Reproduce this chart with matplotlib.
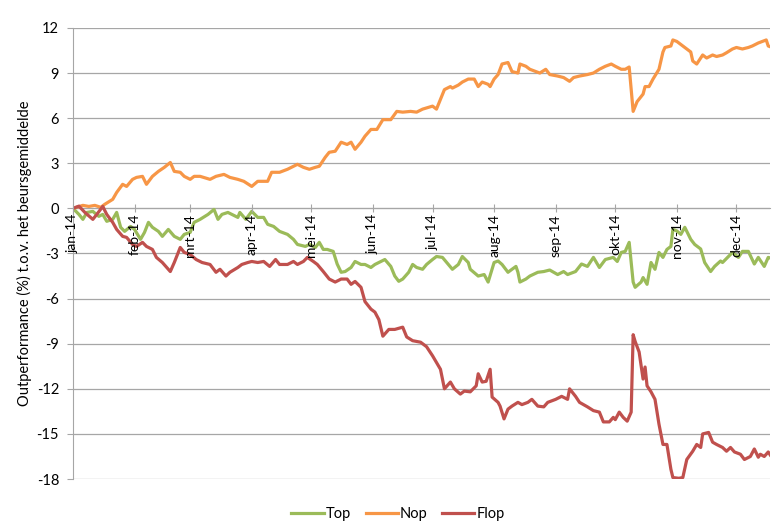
import numpy as np
import pandas as pd
import matplotlib
matplotlib.use("Agg")
import matplotlib.pyplot as plt

plt.rcParams['font.family'] = ['Lato', 'DejaVu Sans']
plt.rcParams['axes.unicode_minus'] = False

# dagen sinds 1 jan 2014 + outperformance (%)
top_dag = [0, 3, 5, 7, 10, 13, 15, 17, 20, 22, 24, 26, 29, 31, 34, 36, 38, 40, 43, 45, 48, 51, 54, 56, 59, 61,
           64, 68, 71, 73, 75, 78, 80, 83, 84, 87, 90, 93, 96, 98, 101, 104, 108, 111, 113, 117, 119, 122, 124,
           126, 128, 131, 133, 135, 137, 140, 142, 145, 147, 150, 152, 155, 157, 160, 162, 164, 166, 169, 171,
           173, 176, 178, 181, 183, 186, 189, 191, 194, 196, 199, 200, 204, 207, 209, 212, 214, 216, 219, 221,
           223, 224, 225, 228, 230, 234, 237, 240, 244, 247, 249, 253, 256, 259, 262, 265, 268, 272, 274, 276,
           278, 280, 282, 283, 286, 287, 289, 291, 293, 295, 297, 299, 301, 302, 304, 306, 308, 311, 313, 316,
           318, 321, 323, 326, 327, 330, 332, 335, 337, 340, 343, 345, 348, 350, 351]
top = [0.0, -0.4, -0.73, -0.27, -0.2, -0.53, -0.4, -0.86, -0.73, -0.27, -1.26, -1.53, -1.2, -1.4, -2.06, -1.6,
       -0.93, -1.26, -1.53, -1.86, -1.4, -1.86, -2.06, -1.73, -1.6, -0.93, -0.73, -0.4, -0.07, -0.73, -0.4,
       -0.27, -0.4, -0.6, -0.27, -0.73, -0.2, -0.6, -0.6, -1.06, -1.2, -1.53, -1.73, -2.06, -2.4, -2.53, -2.4,
       -2.6, -2.26, -2.73, -2.73, -2.86, -3.7, -4.25, -4.2, -3.93, -3.53, -3.73, -3.73, -3.93, -3.73, -3.53,
       -3.4, -3.86, -4.5, -4.85, -4.7, -4.25, -3.73, -3.93, -4.05, -3.73, -3.4, -3.2, -3.26, -3.73, -4.05,
       -3.73, -3.2, -3.6, -4.05, -4.5, -4.4, -4.9, -3.6, -3.5, -3.73, -4.25, -4.05, -3.86, -4.25, -4.9, -4.7,
       -4.5, -4.25, -4.2, -4.1, -4.4, -4.2, -4.4, -4.2, -3.7, -3.86, -3.26, -3.93, -3.4, -3.26, -3.53, -2.93,
       -2.86, -2.26, -4.9, -5.25, -4.9, -4.6, -5.05, -3.6, -4.05, -2.93, -3.26, -2.73, -2.53, -1.4, -1.5,
       -1.73, -1.26, -2.06, -2.4, -2.7, -3.6, -4.2, -3.86, -3.5, -3.6, -3.2, -2.93, -3.26, -2.86, -2.86, -3.7,
       -3.26, -3.86, -3.26, -3.3]

nop_dag = [0, 5, 8, 11, 14, 16, 20, 22, 25, 27, 30, 32, 35, 37, 40, 43, 46, 49, 51, 54, 56, 59, 61, 64, 69, 72,
           76, 79, 83, 86, 90, 93, 98, 100, 104, 108, 113, 116, 119, 122, 124, 127, 129, 132, 135, 138, 140,
           142, 145, 147, 150, 153, 156, 160, 163, 166, 170, 173, 176, 181, 183, 185, 187, 190, 191, 194, 196,
           199, 202, 204, 206, 209, 210, 212, 214, 216, 219, 221, 224, 225, 228, 230, 233, 235, 238, 240, 244,
           247, 250, 252, 255, 259, 262, 265, 268, 271, 273, 276, 278, 280, 282, 284, 287, 288, 290, 292, 295,
           297, 298, 301, 302, 304, 307, 309, 311, 312, 314, 317, 319, 322, 324, 327, 329, 332, 334, 337, 340,
           342, 345, 347, 349, 350, 351]
nop = [0.0, 0.2, 0.13, 0.2, 0.07, 0.27, 0.6, 1.06, 1.6, 1.46, 1.93, 2.06, 2.13, 1.6, 2.13, 2.46, 2.73, 3.05,
       2.46, 2.4, 2.13, 1.93, 2.13, 2.13, 1.93, 2.13, 2.26, 2.06, 1.93, 1.8, 1.46, 1.8, 1.8, 2.4, 2.4, 2.6,
       2.93, 2.73, 2.6, 2.73, 2.8, 3.4, 3.73, 3.8, 4.4, 4.25, 4.4, 3.93, 4.4, 4.8, 5.25, 5.25, 5.9, 5.9, 6.45,
       6.4, 6.45, 6.4, 6.6, 6.8, 6.6, 7.25, 7.9, 8.1, 8.0, 8.2, 8.4, 8.6, 8.6, 8.1, 8.4, 8.25, 8.1, 8.6, 8.9,
       9.6, 9.7, 9.1, 9.0, 9.6, 9.45, 9.25, 9.1, 9.0, 9.25, 8.9, 8.8, 8.7, 8.45, 8.7, 8.8, 8.9, 9.0, 9.25,
       9.45, 9.6, 9.45, 9.25, 9.25, 9.4, 6.45, 7.1, 7.6, 8.1, 8.1, 8.6, 9.25, 10.4, 10.7, 10.8, 11.2, 11.1,
       10.8, 10.6, 10.4, 9.8, 9.6, 10.2, 10.0, 10.2, 10.1, 10.2, 10.35, 10.6, 10.7, 10.6, 10.7, 10.8, 11.0,
       11.1, 11.2, 10.8, 10.75]

flop_dag = [0, 3, 6, 10, 12, 15, 17, 20, 22, 25, 27, 30, 32, 35, 37, 40, 42, 45, 49, 51, 54, 56, 59, 62, 65,
            69, 72, 74, 77, 79, 83, 85, 88, 90, 93, 96, 99, 102, 104, 108, 111, 113, 116, 118, 121, 123, 126,
            129, 132, 135, 138, 140, 142, 145, 147, 150, 152, 154, 156, 159, 162, 166, 168, 171, 175, 178, 181,
            185, 187, 190, 192, 195, 197, 200, 203, 204, 206, 208, 210, 211, 214, 215, 217, 219, 221, 224, 226,
            229, 231, 234, 237, 239, 243, 246, 249, 250, 253, 255, 259, 262, 265, 267, 270, 272, 273, 275, 277,
            279, 281, 282, 283, 285, 287, 288, 289, 291, 293, 295, 297, 299, 301, 302, 305, 307, 309, 312, 314,
            316, 317, 320, 322, 324, 327, 329, 331, 333, 336, 338, 341, 343, 345, 346, 348, 350, 351]
flop = [0.0, 0.15, -0.27, -0.73, -0.4, 0.13, -0.4, -0.93, -1.4, -1.86, -1.93, -2.4, -2.53, -2.26, -2.53, -2.73,
        -3.26, -3.6, -4.2, -3.6, -2.6, -2.93, -3.06, -3.4, -3.6, -3.73, -4.25, -4.05, -4.5, -4.25, -3.93, -3.73,
        -3.6, -3.53, -3.6, -3.53, -3.86, -3.4, -3.73, -3.73, -3.53, -3.73, -3.53, -3.26, -3.53, -3.73, -4.2,
        -4.7, -4.9, -4.7, -4.7, -5.05, -4.86, -5.25, -6.2, -6.7, -6.9, -7.4, -8.5, -8.05, -8.05, -7.9, -8.55,
        -8.8, -8.9, -9.2, -9.8, -10.7, -12.0, -11.55, -12.0, -12.35, -12.15, -12.2, -11.8, -11.0, -11.55,
        -11.5, -10.7, -12.55, -12.9, -13.15, -14.0, -13.35, -13.15, -12.9, -13.05, -12.9, -12.7, -13.15,
        -13.2, -12.9, -12.7, -12.5, -12.7, -12.0, -12.5, -12.9, -13.2, -13.45, -13.55, -14.2, -14.2, -13.9,
        -14.05, -13.55, -13.9, -14.15, -13.55, -8.4, -8.85, -9.55, -11.35, -10.55, -11.8, -12.2, -12.7,
        -14.35, -15.7, -15.7, -17.35, -17.9, -17.95, -17.9, -16.7, -16.15, -15.7, -15.9, -15.0, -14.9,
        -15.55, -15.7, -15.9, -16.15, -15.9, -16.2, -16.35, -16.7, -16.5, -16.0, -16.55, -16.35, -16.5,
        -16.2, -16.4]

maanden = ['jan-14', 'feb-14', 'mrt-14', 'apr-14', 'mei-14', 'jun-14',
           'jul-14', 'aug-14', 'sep-14', 'okt-14', 'nov-14', 'dec-14']
y_ticks = [-18, -15, -12, -9, -6, -3, 0, 3, 6, 9, 12]

start = pd.Timestamp('2014-01-01')
def datums(dagen):
    return start + pd.to_timedelta(dagen, unit='D')

fig = plt.figure(figsize=(7.73, 5.27), dpi=100)
ax = fig.add_axes([0.0944, 0.091, 0.902, 0.856])

# gridlijnen onder de lijnen, maar as-labels erboven
for t in y_ticks:
    ax.axhline(t, color='#A6A6A6', lw=0.9, zorder=0.5)

ax.plot(datums(top_dag), top, color='#9BBB59', lw=2.3, label='Top', zorder=2)
ax.plot(datums(nop_dag), nop, color='#F79646', lw=2.3, label='Nop', zorder=2)
ax.plot(datums(flop_dag), flop, color='#C0504D', lw=2.3, label='Flop', zorder=2)

ax.set_ylim(-18, 12)
ax.set_yticks(y_ticks)
ax.set_xlim(start, datums([351])[0])

ticks = pd.date_range('2014-01-01', periods=12, freq='MS')
ax.set_xticks(ticks)
ax.set_xticklabels(maanden, fontsize=10)

ax.set_axisbelow(False)
for s in ['top', 'right']:
    ax.spines[s].set_visible(False)
ax.spines['left'].set_color('#A6A6A6')
ax.spines['left'].set_zorder(0.6)
ax.spines['bottom'].set_position(('data', 0))
ax.spines['bottom'].set_color('#A6A6A6')
ax.spines['bottom'].set_zorder(0.6)
ax.tick_params(axis='x', direction='inout', length=6, color='#A6A6A6', pad=1, labelrotation=90)
ax.tick_params(axis='y', direction='out', length=4, color='#A6A6A6', labelsize=10.5, pad=6)
plt.setp(ax.get_xticklabels(), va='top', ha='center', rotation_mode='default')

ax.set_ylabel('Outperformance (%) t.o.v. het beursgemiddelde', fontsize=10.5, labelpad=3)

fig.legend(loc='center', bbox_to_anchor=(0.515, 0.025), ncol=3, frameon=False,
           fontsize=10.5, handlelength=2.2, handletextpad=0.15, columnspacing=1.0)

fig.savefig('out.png', dpi=100)
